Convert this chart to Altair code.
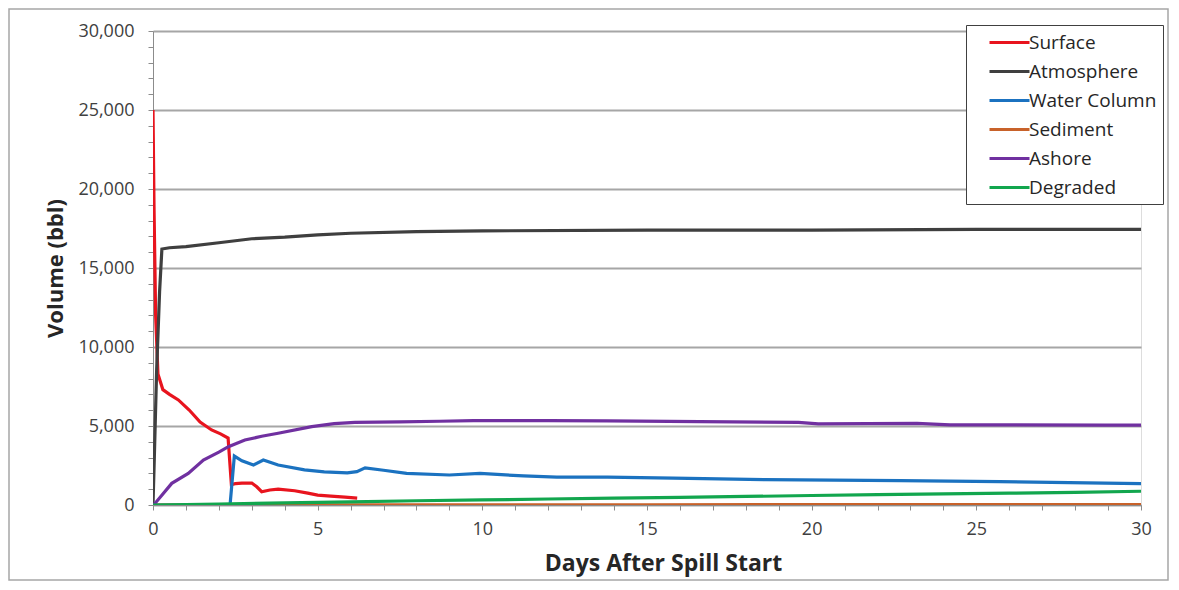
import altair as alt
import pandas as pd

series_names = ["Surface", "Atmosphere", "Water Column", "Sediment", "Ashore", "Degraded"]
series_colors = ["#E8141E", "#3F3F3F", "#1B72C0", "#C8622A", "#7030A0", "#12A64E"]

surface_days = [0, 0.03, 0.08, 0.15, 0.3, 0.5, 0.77, 1.1, 1.43, 1.78, 2.05, 2.28, 2.38, 2.5, 2.7, 3.0, 3.15, 3.3, 3.55, 3.8, 4.3, 4.7, 5.0, 5.4, 5.83, 6.2]
surface_vals = [25000, 19000, 12000, 8300, 7300, 7000, 6650, 6010, 5250, 4750, 4500, 4240, 1300, 1350, 1390, 1390, 1150, 840, 950, 1010, 900, 750, 630, 560, 500, 440]

atmos_days = [0, 0.04, 0.11, 0.2, 0.27, 0.5, 1.0, 2.0, 3.0, 4.0, 5.0, 6.0, 8.0, 10.0, 15.0, 20.0, 25.0, 30.0]
atmos_vals = [0, 3000, 8500, 13500, 16200, 16280, 16350, 16600, 16850, 16950, 17100, 17200, 17300, 17350, 17400, 17400, 17450, 17450]

water_days = [0, 2.34, 2.47, 2.7, 3.05, 3.35, 3.8, 4.6, 5.2, 5.9, 6.19, 6.44, 7.0, 7.7, 9.0, 9.93, 11.25, 12.26, 13.8, 15.8, 18.6, 22.7, 25.7, 28.9, 30]
water_vals = [0, 0, 3100, 2800, 2530, 2850, 2530, 2220, 2100, 2030, 2110, 2350, 2200, 2000, 1900, 2000, 1840, 1760, 1760, 1700, 1600, 1540, 1480, 1380, 1350]

sediment_days = [0, 5, 10, 15, 20, 25, 30]
sediment_vals = [0, 5, 10, 15, 20, 25, 30]

ashore_days = [0, 0.06, 0.3, 0.57, 1.07, 1.53, 2.0, 2.29, 2.79, 3.3, 3.8, 4.82, 5.5, 6.13, 7.5, 8.7, 9.73, 12.0, 13.8, 16.6, 19.6, 20.2, 23.2, 24.2, 28.9, 30]
ashore_vals = [0, 100, 700, 1370, 2000, 2850, 3350, 3690, 4110, 4350, 4540, 4960, 5150, 5230, 5260, 5300, 5340, 5340, 5330, 5280, 5230, 5140, 5160, 5070, 5060, 5050]

degraded_days = [0, 2, 4, 6, 8, 10, 12, 14, 16, 18, 20, 22, 24, 26, 28, 30]
degraded_vals = [0, 60, 130, 200, 270, 320, 380, 430, 480, 540, 600, 660, 700, 750, 800, 870]

x_tick_values = list(range(0, 31))
y_tick_values = list(range(0, 30001, 1000))

rows = []
for name, days, vals in [
    ("Surface", surface_days, surface_vals),
    ("Atmosphere", atmos_days, atmos_vals),
    ("Water Column", water_days, water_vals),
    ("Sediment", sediment_days, sediment_vals),
    ("Ashore", ashore_days, ashore_vals),
    ("Degraded", degraded_days, degraded_vals),
]:
    for d, v in zip(days, vals):
        rows.append({"series": name, "day": d, "volume": v})
df = pd.DataFrame(rows)

W, H = 988, 474
FONT = "Open Sans"

lines = alt.Chart(df).mark_line(strokeWidth=3.2, clip=True).encode(
    x=alt.X(
        "day:Q",
        scale=alt.Scale(domain=[0, 30], nice=False),
        axis=alt.Axis(
            title="Days After Spill Start",
            values=x_tick_values,
            labelExpr="datum.value % 5 === 0 ? datum.label : ''",
            grid=False,
            domainColor="#8c8c8c",
            tickColor="#8c8c8c",
            tickSize=5,
            labelPadding=10,
            labelFont=FONT,
            labelFontSize=18,
            labelColor="#404040",
            titleFont=FONT,
            titleFontSize=23,
            titleFontWeight="bold",
            titleColor="#262626",
            titlePadding=14,
            titleX=510,
            labelFlush=False,
        ),
    ),
    y=alt.Y(
        "volume:Q",
        scale=alt.Scale(domain=[0, 30000], nice=False),
        axis=alt.Axis(
            title="Volume (bbl)",
            values=y_tick_values,
            labelExpr="datum.value % 5000 === 0 ? format(datum.value, ',') : ''",
            grid=True,
            gridColor="#a6a6a6",
            gridWidth=2,
            gridOpacity={"condition": {"test": "datum.value % 5000 === 0", "value": 1}, "value": 0},
            domainColor="#8c8c8c",
            tickColor="#8c8c8c",
            tickSize=5,
            labelPadding=14,
            labelFont=FONT,
            labelFontSize=18,
            labelColor="#404040",
            titleFont=FONT,
            titleFontSize=22,
            titleFontWeight="bold",
            titleColor="#262626",
            titlePadding=10,
        ),
    ),
    color=alt.Color(
        "series:N",
        scale=alt.Scale(domain=series_names, range=series_colors),
        legend=alt.Legend(
            title=None,
            orient="none",
            legendX=813,
            legendY=-6,
            strokeColor="#404040",
            fillColor="white",
            padding=6,
            symbolType="M-2,0H2",
            symbolSize=400,
            symbolStrokeWidth=3,
            symbolOffset=26,
            labelFont=FONT,
            labelFontSize=19,
            labelColor="#262626",
            labelOffset=8,
            rowPadding=7,
        ),
    ),
    detail="series:N",
)

frame = alt.Chart(pd.DataFrame({"a": [0]})).mark_rect(
    fill=None, stroke="#a6a6a6", strokeWidth=1.5
).encode(
    x=alt.value(-144), x2=alt.value(W + 27), y=alt.value(-22), y2=alt.value(H + 75)
)

chart = alt.layer(lines, frame).properties(
    width=W,
    height=H,
    padding={"left": 145, "top": 23, "right": 28, "bottom": 76},
    autosize=alt.AutoSizeParams(type="none"),
).configure_view(stroke=None).configure(background="white")

chart.save("out.html", embed_options={"renderer": "svg", "actions": False})
